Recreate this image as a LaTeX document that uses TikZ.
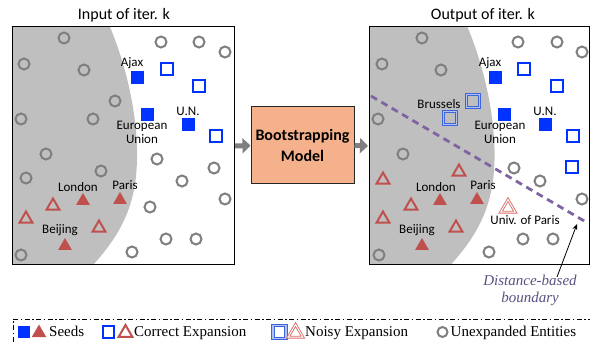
\documentclass[tikz,border=0pt]{standalone}
\usepackage{fontspec}
\setmainfont{Liberation Serif}
\newfontfamily\calib{Carlito}
\usetikzlibrary{shapes.geometric,arrows.meta}
\definecolor{cgray}{RGB}{127,127,127}
\definecolor{cregion}{RGB}{191,191,191}
\definecolor{cblue}{RGB}{0,51,255}
\definecolor{nblue}{RGB}{60,100,220}
\definecolor{cred}{RGB}{192,80,77}
\definecolor{nred}{RGB}{220,110,105}
\definecolor{csalmon}{RGB}{244,177,140}
\definecolor{cpurple}{RGB}{128,100,162}
\definecolor{ctext}{RGB}{90,80,130}
\tikzset{
  ent/.style={circle,draw=cgray,line width=2pt,minimum size=11pt,inner sep=0pt},
  seedsq/.style={rectangle,fill=cblue,minimum size=13pt,inner sep=0pt},
  corsq/.style={rectangle,draw=cblue,line width=2.3pt,minimum size=12.5pt,inner sep=0pt},
  noisysq/.style={rectangle,draw=nblue,line width=1.1pt,double=white!60!nblue,double distance=1.2pt,minimum size=13pt,inner sep=0pt},
  seedtri/.style={regular polygon,regular polygon sides=3,fill=cred,minimum size=16pt,inner sep=0pt},
  cortri/.style={regular polygon,regular polygon sides=3,draw=cred,line width=2pt,minimum size=15pt,inner sep=0pt},
  noisytri/.style={regular polygon,regular polygon sides=3,draw=nred,line width=0.9pt,double=white,double distance=1pt,minimum size=17pt,inner sep=0pt},
  lab/.style={font=\calib\fontsize{13}{14}\selectfont,inner sep=0pt,align=center},
  ttl/.style={font=\calib\fontsize{16}{18}\selectfont,inner sep=0pt},
  frame/.style={draw=black,line width=1pt},
  blockarrow/.style={draw=cgray,line width=5pt,-{Triangle[length=8pt,width=15pt]}},
  legtxt/.style={font=\fontsize{15}{16}\selectfont,inner sep=0pt,anchor=base west},
}
\begin{document}
\begin{tikzpicture}[x=1pt,y=-1pt]
\useasboundingbox (0,0) rectangle (590,342);
% ---------- left panel ----------
\fill[cregion] (12,27) -- (110,27) .. controls (128,70) and (138,120) .. (137,160)
  .. controls (136,200) and (125,230) .. (93,265) -- (12,265) -- cycle;
\node[ttl] (t1) at (124,15) {Input of iter. k};
\foreach \n/\x/\y in {a1/64/38,a2/161/42,a3/199/42,a4/225/52,a5/24/64,a6/84/70,a7/115/101,a8/21/119,a9/93/119,a10/46/154,a11/157/159,a12/214/168,a13/101/171,a14/26/178,a15/182/181,a16/225/199,a17/150/207,a18/166/239,a19/196/239,a20/21/255,a21/132/252}
  \node[ent] (\n) at (\x,\y) {};
\node[seedsq] (ajax1) at (137,78) {};
\node[lab,anchor=base] (ajaxl1) at (132,67) {Ajax};
\node[seedsq] (eu1) at (147,115) {};
\node[lab,anchor=north] (eul1) at (142,121) {European\\Union};
\node[seedsq] (un1) at (188,125) {};
\node[lab,anchor=base] (unl1) at (188,116) {U.N.};
\node[corsq] (c1) at (167,69) {};
\node[corsq] (c2) at (199,86) {};
\node[corsq] (c3) at (216,136) {};
\node[seedtri] (lon1) at (83,201) {};
\node[lab,anchor=base] (lonl1) at (78,192) {London};
\node[seedtri] (par1) at (120,200) {};
\node[lab,anchor=base] (parl1) at (125,190) {Paris};
\node[seedtri] (bei1) at (65,246) {};
\node[lab,anchor=base] (beil1) at (60,234) {Beijing};
\node[cortri] (r1) at (53,206) {};
\node[cortri] (r2) at (26,219) {};
\node[cortri] (r3) at (99,228) {};
\draw[frame] (12,27) rectangle (234,265);
% ---------- model ----------
\node[draw=black!85,line width=1pt,fill=csalmon,minimum width=103pt,minimum height=77pt,inner sep=0pt,align=center,
  font=\calib\bfseries\fontsize{16}{21}\selectfont] (model) at (302.5,145.5) {Bootstrapping\\Model};
\coordinate (lout) at (235,146);
\coordinate (rin) at (368,146);
\draw[blockarrow] (lout) -- (model.west);
\draw[blockarrow] (model.east) -- (rin);
% ---------- right panel ----------
\begin{scope}[xshift=357.5pt]
\fill[cregion] (11.5,27) -- (110,27) .. controls (128,70) and (138,120) .. (137,160)
  .. controls (136,200) and (125,230) .. (93,265) -- (11.5,265) -- cycle;
\end{scope}
\node[ttl] (t2) at (483,15) {Output of iter. k};
\foreach \n/\x/\y in {b1/422/38,b2/518/42,b3/557/42,b4/582/52,b5/382/64,b6/441/70,b7/378/119,b8/403/154,b9/514/168,b10/540/181,b11/582/199,b12/523/239,b13/553/239,b14/379/255,b15/489/252}
  \node[ent] (\n) at (\x,\y) {};
\node[seedsq] (ajax2) at (495,78) {};
\node[lab,anchor=base] (ajaxl2) at (490,67) {Ajax};
\node[seedsq] (eu2) at (504,115) {};
\node[lab,anchor=north] (eul2) at (500,121) {European\\Union};
\node[seedsq] (un2) at (545,125) {};
\node[lab,anchor=base] (unl2) at (545,116) {U.N.};
\node[corsq] (d1) at (524,69) {};
\node[corsq] (d2) at (557,86) {};
\node[corsq] (d3) at (573,136) {};
\node[corsq] (d4) at (572,167) {};
\node[noisysq] (bru1) at (473,101) {};
\node[noisysq] (bru2) at (450,118) {};
\node[lab,anchor=base] (brul) at (439,109) {Brussels};
\node[seedtri] (lon2) at (440,201) {};
\node[lab,anchor=base] (lonl2) at (436,192) {London};
\node[seedtri] (par2) at (477,200) {};
\node[lab,anchor=base] (parl2) at (483,190) {Paris};
\node[seedtri] (bei2) at (422,246) {};
\node[lab,anchor=base] (beil2) at (417,234) {Beijing};
\node[cortri] (s1) at (383,180) {};
\node[cortri] (s2) at (459,172) {};
\node[cortri] (s3) at (411,206) {};
\node[cortri] (s4) at (383,219) {};
\node[cortri] (s5) at (456,228) {};
\node[noisytri] (uop) at (508,208) {};
\node[lab,anchor=base] (uopl) at (525,225) {Univ. of Paris};
\coordinate (bstart) at (371,96);
\coordinate (bend) at (586,222);
\draw[cpurple,line width=2.8pt,dash pattern=on 7pt off 5pt] (bstart) -- (bend);
\draw[frame] (369,27) -- (589.5,27) -- (589.5,265) -- (369,265) -- cycle;
\node[font=\itshape\fontsize{15}{17}\selectfont,text=ctext,align=center,inner sep=0pt] (dist) at (530,290) {Distance-based\\boundary};
\coordinate (tail) at (557,277);
\coordinate (head) at (577,224);
\draw[black,line width=0.8pt,-{Stealth[length=6pt,width=5pt]}] (tail) -- (head);
% ---------- legend ----------
\coordinate (lg1) at (13,342);
\coordinate (lg2) at (13,319);
\coordinate (lg3) at (590,319);
\draw[line width=0.9pt,dash pattern=on 5pt off 2.5pt on 1.5pt off 2.5pt] (lg1) -- (lg2) -- (lg3);
\node[seedsq,minimum size=12pt] (ls1) at (24,332) {};
\node[seedtri,minimum size=17pt] (lt1) at (39,333) {};
\node[legtxt] (lx1) at (49,337) {Seeds};
\node[corsq,minimum size=11.5pt] (ls2) at (108.5,332) {};
\node[cortri,minimum size=16pt] (lt2) at (125.5,333) {};
\node[legtxt] (lx2) at (134,337) {Correct Expansion};
\node[noisysq,minimum size=13pt] (ls3) at (279.5,332) {};
\node[noisytri,minimum size=17pt] (lt3) at (295.5,333) {};
\node[legtxt] (lx3) at (305,337) {Noisy Expansion};
\node[ent,minimum size=10pt] (lc) at (442.5,332) {};
\node[legtxt] (lx4) at (450.5,337) {Unexpanded Entities};
\end{tikzpicture}
\end{document}
